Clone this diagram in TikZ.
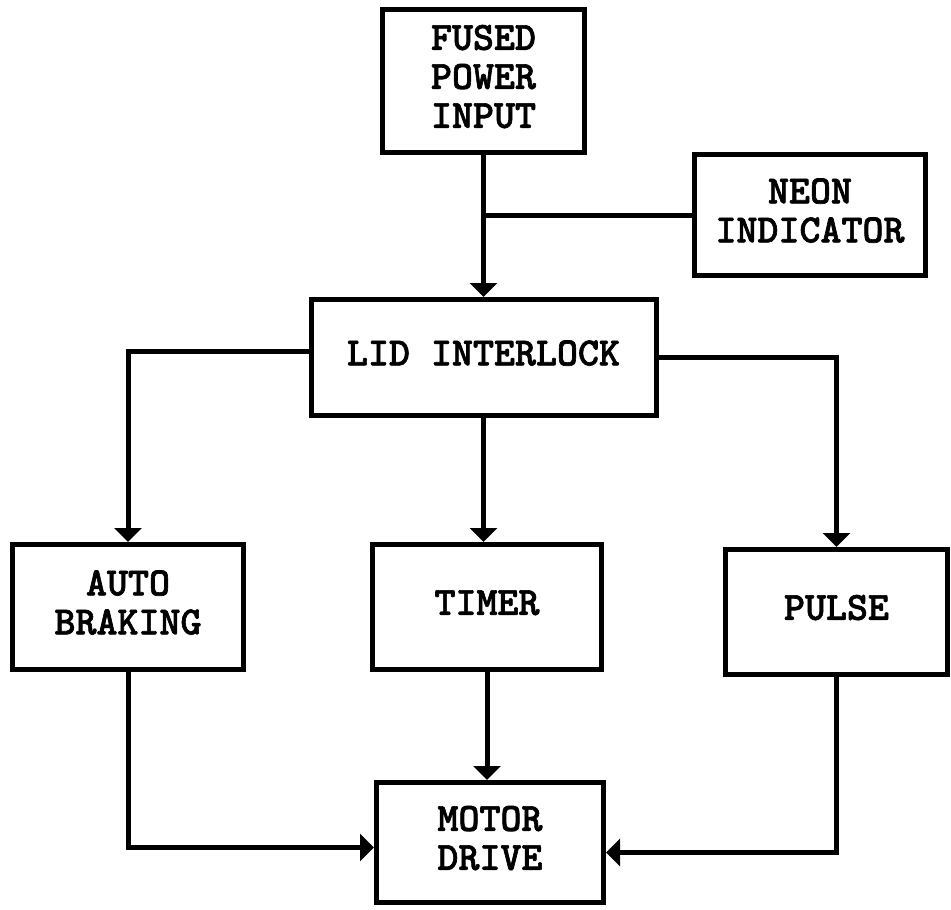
\documentclass[tikz,border=0pt]{standalone}
\usepackage{fontspec}
\newfontfamily\monob{lmmonolt10-bold}[Extension=.otf,FakeBold=1.6]
\usetikzlibrary{arrows.meta}
\newcommand{\lbl}[1]{\begin{tabular}{@{}c@{}}#1\end{tabular}}
\begin{document}
\begin{tikzpicture}[x=1pt,y=-1pt,
  blk/.style={draw=black,line width=5pt,fill=white,inner sep=0pt,
    font=\fontsize{40}{39}\selectfont\monob},
  conn/.style={draw=black,line width=5pt},
  arr/.style={conn,-{Triangle[width=27pt,length=14pt]}}]
\fill[white] (0,0) rectangle (951,910);
\useasboundingbox (0,0) rectangle (951,910);
\node[blk,minimum width=202pt,minimum height=143pt] (fused) at (483.5,81) {\lbl{FUSED\\POWER\\INPUT}};
\node[blk,minimum width=231pt,minimum height=121pt] (neon) at (810,215) {\lbl{NEON\\INDICATOR}};
\node[blk,minimum width=345pt,minimum height=116pt] (lid) at (483.5,357.5) {\lbl{LID INTERLOCK}};
\node[blk,minimum width=231pt,minimum height=125pt] (auto) at (128,607) {\lbl{AUTO\\BRAKING}};
\node[blk,minimum width=229pt,minimum height=125pt] (timer) at (487,607) {\lbl{TIMER}};
\node[blk,minimum width=222pt,minimum height=125pt] (pulse) at (836.5,612) {\lbl{PULSE}};
\node[blk,minimum width=227pt,minimum height=120pt] (motor) at (490,842.5) {\lbl{MOTOR\\DRIVE}};
\draw[arr] (fused.south) -- (lid.north);
\draw[conn] (neon.west) -- (neon.west -| fused.south);
\draw[arr] ([yshift=6pt]lid.west) -| (auto.north);
\draw[arr] (lid.east) -| (pulse.north);
\draw[arr] (lid.south) -- (lid.south |- timer.north);
\draw[arr] (timer.south) -- (timer.south |- motor.north);
\draw[arr] (auto.south) |- ([yshift=-5pt]motor.west);
\draw[arr] (pulse.south) |- ([yshift=-10pt]motor.east);
\end{tikzpicture}
\end{document}
